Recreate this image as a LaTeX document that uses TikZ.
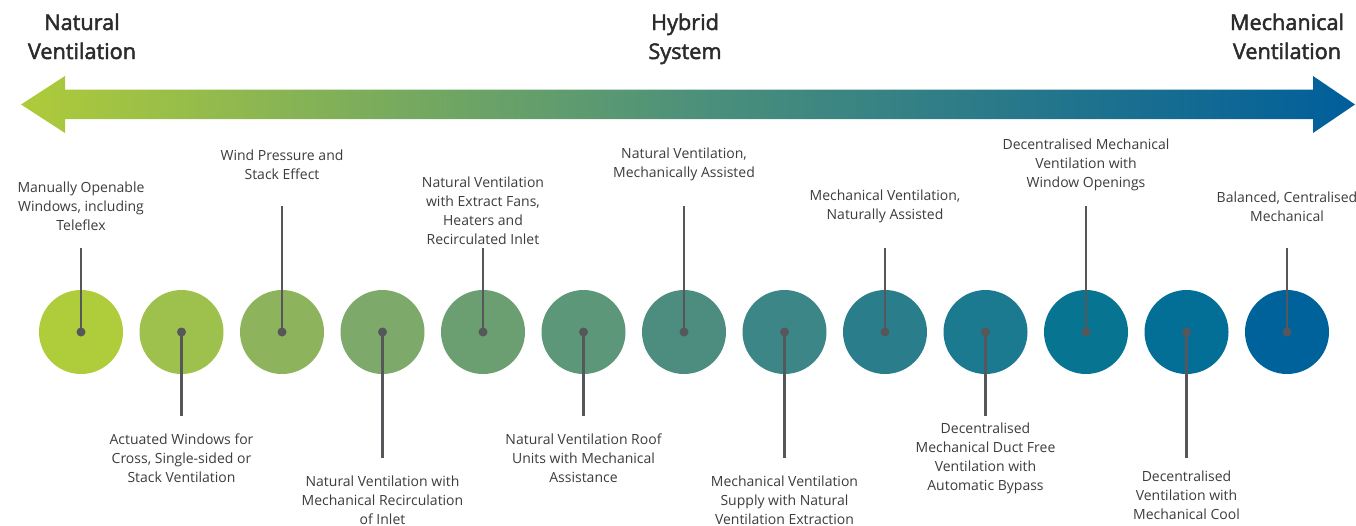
\documentclass[tikz,border=0pt]{standalone}
\usepackage{fontspec}
\setmainfont{Open Sans}
\newfontfamily\headfont{Open Sans}[FakeBold=2.2]

\definecolor{headtext}{HTML}{2B2B2B}
\definecolor{labeltext}{HTML}{3C3C3C}
\definecolor{stemgrey}{HTML}{55575A}
\definecolor{arrowlime}{HTML}{AFCB3A}
\definecolor{arrowteal}{HTML}{4D917A}
\definecolor{arrowblue}{HTML}{005E9B}

\definecolor{c1}{HTML}{AFCD3B}
\definecolor{c2}{HTML}{9EC14D}
\definecolor{c3}{HTML}{8DB45D}
\definecolor{c4}{HTML}{7DA96A}
\definecolor{c5}{HTML}{6B9E71}
\definecolor{c6}{HTML}{5C9779}
\definecolor{c7}{HTML}{4C8D7F}
\definecolor{c8}{HTML}{3C8687}
\definecolor{c9}{HTML}{2A7E8B}
\definecolor{c10}{HTML}{1B7A8F}
\definecolor{c11}{HTML}{077592}
\definecolor{c12}{HTML}{036E96}
\definecolor{c13}{HTML}{00629B}

\pgfdeclarehorizontalshading{ventgrad}{100bp}{color(0bp)=(arrowlime); color(25bp)=(arrowlime); color(50bp)=(arrowteal); color(75bp)=(arrowblue); color(100bp)=(arrowblue)}

\tikzset{
  heading/.style={align=center, anchor=base, text=headtext, inner sep=0pt,
    font=\headfont\fontsize{16.25}{21.75}\selectfont},
  disc/.style={circle, minimum size=63pt, inner sep=0pt, draw=none},
  pin/.style={circle, minimum size=6.75pt, inner sep=0pt, fill=stemgrey},
  stem/.style={draw=stemgrey, line width=1.7pt},
  caption/.style={align=center, anchor=base, text=labeltext, inner sep=0pt,
    font=\fontsize{10.5}{14.25}\selectfont}
}

\begin{document}
\begin{tikzpicture}[x=0.75pt, y=-0.75pt]
  \useasboundingbox (0,0) rectangle (1356,525);

  % headings (base = last line)
  \node[heading] (natural) at (82,59) {Natural\\Ventilation};
  \node[heading] (hybrid) at (685,59) {Hybrid\\System};
  \node[heading] (mechanical) at (1287,59) {Mechanical\\Ventilation};

  % double arrow
  \shade[shading=ventgrad] (21,104.5) -- (65,76) -- (65,89.5) -- (1313,89.5) -- (1313,76)
    -- (1355,104.5) -- (1313,133) -- (1313,119) -- (65,119) -- (65,133) -- cycle;

  % discs, stems and captions
  \foreach \i/\yend/\ybase/\txt in {
    1/248/230/{Manually Openable\\Windows, including\\Teleflex},
    2/416/482/{Actuated Windows for\\Cross, Single-sided or\\Stack Ventilation},
    3/206/179/{Wind Pressure and\\Stack Effect},
    4/458/524/{Natural Ventilation with\\Mechanical Recirculation\\of Inlet},
    5/248/244/{Natural Ventilation\\with Extract Fans,\\Heaters and\\Recirculated Inlet},
    6/416/482/{Natural Ventilation Roof\\Units with Mechanical\\Assistance},
    7/206/177/{Natural Ventilation,\\Mechanically Assisted},
    8/458/524/{Mechanical Ventilation\\Supply with Natural\\Ventilation Extraction},
    9/248/219/{Mechanical Ventilation,\\Naturally Assisted},
    10/416/490/{Decentralised\\Mechanical Duct Free\\Ventilation with\\Automatic Bypass},
    11/206/187/{Decentralised Mechanical\\Ventilation with\\Window Openings},
    12/458/519/{Decentralised\\Ventilation with\\Mechanical Cool},
    13/248/221/{Balanced, Centralised\\Mechanical}} {
    \pgfmathsetmacro{\xc}{81 + (\i-1)*100.5}
    \node[disc, fill=c\i] (c\i) at (\xc,332) {};
    \coordinate (e\i) at (\xc,\yend);
    \draw[stem] (c\i.center) -- (e\i);
    \node[pin] (p\i) at (c\i.center) {};
    \node[caption] (l\i) at (\xc,\ybase) {\txt};
  }
\end{tikzpicture}
\end{document}
